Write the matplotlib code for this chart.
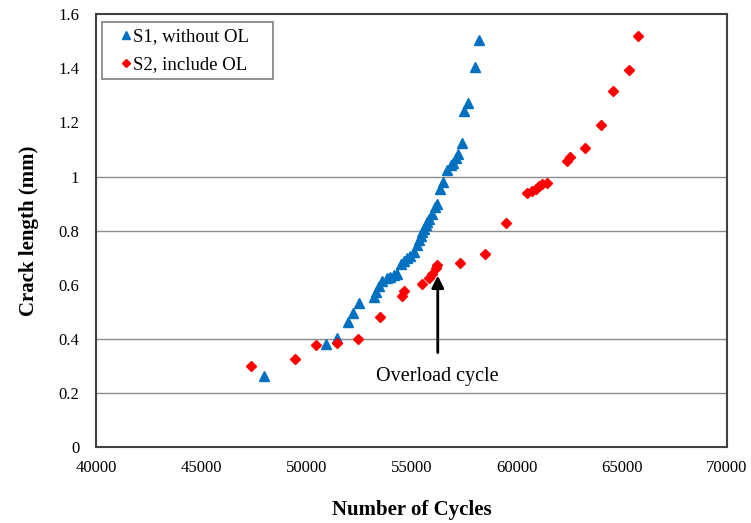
import matplotlib
matplotlib.use("Agg")
import matplotlib.pyplot as plt

# S1, without OL (triangles)
s1_cycles = [48000, 50950, 51480, 52000, 52200, 52500, 53200, 53300, 53450, 53600,
             53850, 54000, 54150, 54300, 54480, 54630, 54800, 54950, 55100, 55270,
             55350, 55430, 55510, 55590, 55670, 55750, 55830, 55990, 56140, 56220,
             56350, 56500, 56670, 56860, 56990, 57100, 57200, 57380, 57520, 57680,
             58010, 58200]
s1_crack = [0.265, 0.381, 0.404, 0.465, 0.495, 0.535, 0.555, 0.575, 0.595, 0.615,
            0.625, 0.630, 0.635, 0.640, 0.678, 0.690, 0.700, 0.707, 0.723, 0.746,
            0.765, 0.780, 0.795, 0.807, 0.820, 0.832, 0.845, 0.863, 0.888, 0.900,
            0.956, 0.980, 1.023, 1.042, 1.052, 1.069, 1.085, 1.126, 1.242, 1.273,
            1.406, 1.505]

# S2, include OL (diamonds)
s2_cycles = [47350, 49450, 50480, 51480, 52480, 53480, 54560, 54640, 55510, 55830,
             55990, 56150, 56230, 57300, 58480, 59510, 60480, 60750, 60900, 61060,
             61220, 61430, 62380, 62540, 63240, 64000, 64600, 65350, 65780]
s2_crack = [0.300, 0.325, 0.378, 0.385, 0.400, 0.480, 0.558, 0.578, 0.605, 0.625,
            0.642, 0.662, 0.674, 0.680, 0.713, 0.830, 0.938, 0.947, 0.956, 0.966,
            0.974, 0.977, 1.058, 1.074, 1.106, 1.190, 1.318, 1.395, 1.518]

y_ticks = [0, 0.2, 0.4, 0.6, 0.8, 1.0, 1.2, 1.4, 1.6]
y_tick_labels = ["0", "0.2", "0.4", "0.6", "0.8", "1", "1.2", "1.4", "1.6"]
x_ticks = [40000, 45000, 50000, 55000, 60000, 65000, 70000]
grid_levels = [0.2, 0.4, 0.8, 1.0]  # only these lines show in the scan

overload_x = 56250

plt.rcParams["font.family"] = ["Liberation Serif", "DejaVu Serif"]

fig = plt.figure(figsize=(7.51, 5.23), dpi=100)
ax = fig.add_axes([0.1278, 0.1444, 0.8402, 0.8286])

for g in grid_levels:
    ax.axhline(g, color="#8c8c8c", lw=1.0, zorder=0)

ax.plot(s1_cycles, s1_crack, linestyle="none", marker="^", ms=7.5,
        color="#0070C0", label="S1, without OL", zorder=3)
ax.plot(s2_cycles, s2_crack, linestyle="none", marker="D", ms=5.3,
        color="#FF0000", label="S2, include OL", zorder=3)

ax.annotate("", xy=(overload_x, 0.645), xytext=(overload_x, 0.34),
            arrowprops=dict(arrowstyle="-|>", color="black", lw=2,
                            mutation_scale=18))
ax.text(overload_x, 0.262, "Overload cycle", ha="center", va="center", fontsize=14.5)

ax.set_xlim(40000, 70000)
ax.set_ylim(0, 1.6)
ax.set_xticks(x_ticks)
ax.set_xticklabels([str(v) for v in x_ticks])
ax.set_yticks(y_ticks)
ax.set_yticklabels(y_tick_labels)
ax.tick_params(axis="both", labelsize=12, length=0, pad=12)
ax.tick_params(axis="x", pad=9)

for s in ax.spines.values():
    s.set_color("#404040")
    s.set_linewidth(1.5)

ax.set_xlabel("Number of Cycles", fontsize=15, fontweight="bold", labelpad=17)
ax.set_ylabel("Crack length (mm)", fontsize=15, fontweight="bold", labelpad=14)

# legend box stretched to the width seen in the reference
leg = ax.legend(loc="upper left", bbox_to_anchor=(0.0095, 0.5, 0.271, 0.481),
                mode="expand", fontsize=13.5, frameon=True, fancybox=False,
                handlelength=1.95, handletextpad=-0.6, borderpad=0.3,
                labelspacing=0.6, borderaxespad=0, markerscale=0.75)
leg.get_frame().set_edgecolor("#606060")
leg.get_frame().set_linewidth(1.2)

fig.savefig("out.png", dpi=100)
